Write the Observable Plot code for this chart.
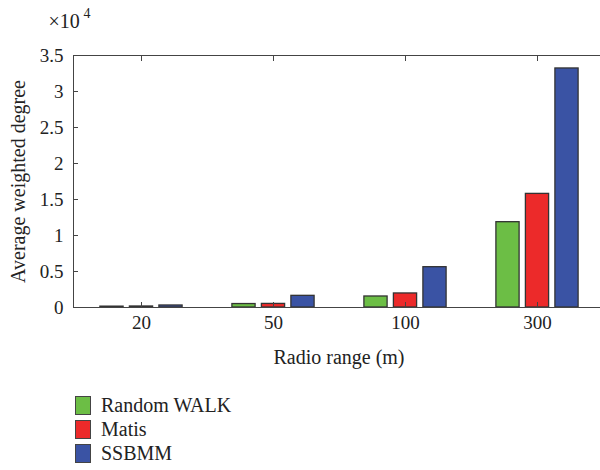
<!DOCTYPE html>
<html>
<head>
<meta charset="utf-8">
<script src="https://cdn.jsdelivr.net/npm/d3@7"></script>
<script src="https://cdn.jsdelivr.net/npm/@observablehq/plot@0.6"></script>
</head>
<body style="margin:0;padding:0;background:#fff;overflow:hidden;width:600px;height:470px;font-family:'Liberation Serif'">
<div id="chart"></div>
<div id="legend" style="font-family:'Liberation Serif';font-size:20px;color:#222;margin-top:13px;padding-left:75px"></div>
<script>
const ranges = ["20", "50", "100", "300"];
const seriesNames = ["Random WALK", "Matis", "SSBMM"];
const randomWalk = [120, 480, 1530, 11850];
const matis = [140, 500, 1950, 15780];
const ssbmm = [280, 1620, 5600, 33200];
const colors = ["#6cbe45", "#ec2a2a", "#3a53a4"];
const yTicks = [0, 5000, 10000, 15000, 20000, 25000, 30000, 35000];

const seriesValues = [randomWalk, matis, ssbmm];
const data = seriesNames.flatMap((s, si) => ranges.map((r, i) => ({series: s, range: r, value: seriesValues[si][i]})));

const offsets = [-29.5, 0, 29.5];
const barInset = 54.4;

const chart = Plot.plot({
  width: 604,
  height: 380,
  marginLeft: 73,
  marginRight: 0,
  marginTop: 55,
  marginBottom: 73,
  style: "font-family:'Liberation Serif';font-size:19px;color:#222;background:#fff;max-width:none;display:block;",
  x: {domain: ranges, padding: 0, label: null},
  y: {domain: [0, 35000], label: null},
  marks: [
    ...seriesNames.map((s, si) => Plot.barY(data.filter(d => d.series === s), {
      x: "range", y: "value", fill: colors[si], stroke: "#333", strokeWidth: 1.3,
      insetLeft: barInset, insetRight: barInset, dx: offsets[si]
    })),
    Plot.frame({stroke: "#444", strokeWidth: 1}),
    Plot.axisY({ticks: yTicks, tickFormat: d => d / 1e4, tickSize: -5, tickPadding: 15, label: null, stroke: "#444", fontSize: 19}),
    Plot.axisY({anchor: "right", ticks: yTicks, tickSize: -5, tickFormat: () => "", label: null, stroke: "#444"}),
    Plot.axisX({anchor: "top", tickSize: -5, tickFormat: () => "", label: null, stroke: "#444"}),
    Plot.axisX({anchor: "bottom", tickSize: -5, tickPadding: 13, label: null, stroke: "#444", fontSize: 19}),
    Plot.text(["Radio range (m)"], {frameAnchor: "bottom", dy: 50, lineAnchor: "middle", fontSize: 20, fill: "#222"}),
    Plot.text(["Average weighted degree"], {frameAnchor: "left", dx: -55, rotate: -90, textAnchor: "middle", lineAnchor: "middle", fontSize: 20, fill: "#222"}),
    Plot.text(["×10"], {frameAnchor: "top-left", dx: -25, dy: -34, textAnchor: "start", lineAnchor: "middle", fontSize: 20, fill: "#222"}),
    Plot.text(["4"], {frameAnchor: "top-left", dx: 10, dy: -42, textAnchor: "start", lineAnchor: "middle", fontSize: 14, fill: "#222"})
  ]
});
chart.setAttribute("font-family", "Liberation Serif");
document.getElementById("chart").append(chart);

const legend = document.getElementById("legend");
seriesNames.forEach((s, i) => {
  const item = document.createElement("div");
  item.style.cssText = "display:flex;align-items:center;height:24px";
  const sw = document.createElement("div");
  sw.style.cssText = "width:14px;height:17px;border:1.5px solid #444;margin-right:10px";
  sw.style.background = colors[i];
  const label = document.createElement("span");
  label.textContent = s;
  item.append(sw, label);
  legend.append(item);
});
</script>
</body>
</html>
